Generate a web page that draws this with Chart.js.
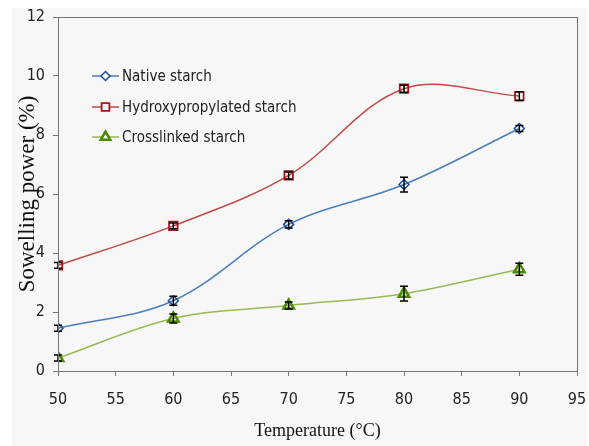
<!DOCTYPE html>
<html lang="en">
<head>
  <meta charset="UTF-8">
  <title>Swelling power</title>
  <script src="https://cdn.jsdelivr.net/npm/chart.js"></script>
  <style>
    body { margin: 0; background: #fff; }
  </style>
</head>
<body>
  <canvas id="swellChart" width="589" height="446"></canvas>

  <script>
// temperatures (°C)
const temps = [50, 60, 70, 80, 90];

// swelling power (%) per starch
const nativeVals = [1.45, 2.38, 4.97, 6.32, 8.22];
const hydroxyVals = [3.58, 4.92, 6.63, 9.57, 9.32];
const crossVals = [0.44, 1.78, 2.22, 2.62, 3.45];

// error bar half-heights
const nativeErr = [0.1, 0.15, 0.12, 0.25, 0.1];
const hydroxyErr = [0.1, 0.1, 0.12, 0.12, 0.15];
const crossErr = [0.1, 0.15, 0.12, 0.25, 0.2];

const seriesNames = ['Native starch', 'Hydroxypropylated starch', 'Crosslinked starch'];

const narrow = '"Liberation Sans Narrow", "Arial Narrow", "DejaVu Sans Condensed", sans-serif';
const serif = '"Liberation Serif", "Times New Roman", serif';

function toPoints(vals) {
  return temps.map((t, i) => ({ x: t, y: vals[i] }));
}

// light grey panel behind everything plus box round the plot
const backPanel = {
  id: 'backPanel',
  beforeDraw(chart) {
    const ctx = chart.ctx;
    ctx.save();
    ctx.fillStyle = '#f7f7f7';
    ctx.fillRect(12, 8, 575, 438);
    ctx.restore();
  },
  afterDraw(chart) {
    const a = chart.chartArea;
    const ctx = chart.ctx;
    ctx.save();
    ctx.strokeStyle = '#777';
    ctx.lineWidth = 1;
    ctx.strokeRect(a.left + 0.5, a.top + 0.5, a.right - a.left, a.bottom - a.top);
    ctx.restore();
  }
};

// error bars
const errorBars = {
  id: 'errorBars',
  afterDatasetsDraw(chart) {
    const ctx = chart.ctx;
    const xs = chart.scales.x, ys = chart.scales.y;
    ctx.save();
    ctx.strokeStyle = '#000';
    ctx.lineWidth = 1.5;
    chart.data.datasets.forEach(ds => {
      ds.data.forEach((p, i) => {
        const e = ds.errors[i];
        const px = xs.getPixelForValue(p.x);
        const top = ys.getPixelForValue(p.y + e);
        const bot = ys.getPixelForValue(p.y - e);
        ctx.beginPath();
        ctx.moveTo(px, top); ctx.lineTo(px, bot);
        ctx.moveTo(px - 4, top); ctx.lineTo(px + 4, top);
        ctx.moveTo(px - 4, bot); ctx.lineTo(px + 4, bot);
        ctx.stroke();
      });
    });
    ctx.restore();
  }
};

// legend inside the plot area
const innerLegend = {
  id: 'innerLegend',
  afterDraw(chart) {
    const ctx = chart.ctx;
    const rows = [76, 107, 137];
    ctx.save();
    chart.data.datasets.forEach((ds, i) => {
      const y = rows[i];
      ctx.strokeStyle = ds.borderColor;
      ctx.lineWidth = 1.5;
      ctx.beginPath();
      ctx.moveTo(92, y); ctx.lineTo(119, y);
      ctx.stroke();
      ctx.fillStyle = '#f7f7f7';
      ctx.strokeStyle = ds.pointBorderColor;
      ctx.lineWidth = ds.pointBorderWidth;
      Chart.helpers.drawPoint(ctx, { pointStyle: ds.pointStyle, radius: ds.pointRadius - 0.5, rotation: 0, borderWidth: ds.pointBorderWidth }, 105.5, y);
      ctx.fillStyle = '#222';
      ctx.font = '15px ' + narrow;
      ctx.textBaseline = 'middle';
      ctx.fillText(ds.label, 122, y + 1);
    });
    ctx.restore();
  }
};

const ctx = document.getElementById('swellChart').getContext('2d');
new Chart(ctx, {
  type: 'line',
  data: {
    datasets: [
      {
        label: seriesNames[0],
        data: toPoints(nativeVals),
        errors: nativeErr,
        borderColor: '#4a7ebb',
        borderWidth: 1.5,
        pointStyle: 'rectRot',
        pointRadius: 5,
        pointBorderWidth: 1.5,
        pointBorderColor: '#1f4e9a',
        pointBackgroundColor: 'rgba(0,0,0,0)',
        tension: 0.35
      },
      {
        label: seriesNames[1],
        data: toPoints(hydroxyVals),
        errors: hydroxyErr,
        borderColor: '#be4b48',
        borderWidth: 1.5,
        pointStyle: 'rect',
        pointRadius: 6,
        pointBorderWidth: 1.8,
        pointBorderColor: '#a8141a',
        pointBackgroundColor: 'rgba(0,0,0,0)',
        tension: 0.35
      },
      {
        label: seriesNames[2],
        data: toPoints(crossVals),
        errors: crossErr,
        borderColor: '#98b954',
        borderWidth: 1.5,
        pointStyle: 'triangle',
        pointRadius: 6,
        pointBorderWidth: 2.5,
        pointBorderColor: '#4e8a00',
        pointBackgroundColor: 'rgba(0,0,0,0)',
        tension: 0.35
      }
    ]
  },
  options: {
    responsive: false,
    animation: false,
    layout: { padding: { left: 12, top: 17, right: 12, bottom: 0 } },
    plugins: {
      legend: { display: false },
      tooltip: { enabled: false }
    },
    scales: {
      x: {
        type: 'linear',
        min: 50,
        max: 95,
        afterFit(s) { s.height = 75; s.paddingLeft = 0; s.paddingRight = 0; },
        ticks: { stepSize: 5, color: '#222', padding: 14, font: { family: narrow, size: 16 } },
        grid: { drawOnChartArea: false, drawTicks: true, tickLength: 5, color: '#777' },
        border: { color: '#777' },
        title: { display: true, text: 'Temperature (°C)', color: '#111', padding: { top: 17 }, font: { family: serif, size: 18 } }
      },
      y: {
        min: 0,
        max: 12,
        afterFit(s) { s.width = 46; s.paddingTop = 0; s.paddingBottom = 0; },
        ticks: { stepSize: 2, color: '#222', padding: 8, font: { family: narrow, size: 16 } },
        grid: { drawOnChartArea: false, drawTicks: true, tickLength: 5, color: '#777' },
        border: { color: '#777' },
        title: { display: true, text: 'Sowelling power (%)', color: '#111', padding: 2, font: { family: serif, size: 23 } }
      }
    }
  },
  plugins: [backPanel, errorBars, innerLegend]
});
  </script>
</body>
</html>
